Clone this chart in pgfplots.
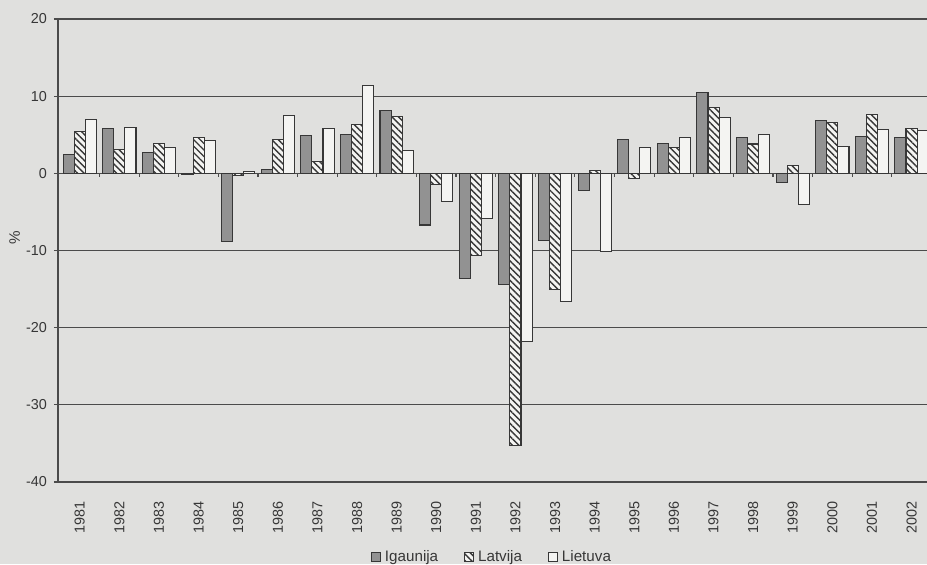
\documentclass[border=0pt]{standalone}
\usepackage{fontspec}
\setmainfont{Liberation Sans}
\usepackage{pgfplots}
\pgfplotsset{compat=1.18}
\usetikzlibrary{patterns.meta}

\definecolor{paper}{RGB}{224,224,222}
\definecolor{barw}{RGB}{244,244,242}
\definecolor{bardark}{RGB}{146,146,146}
\definecolor{ink}{RGB}{55,55,55}
\definecolor{gridc}{RGB}{75,75,75}

\begin{document}
\begin{tikzpicture}
\fill[paper] (-29pt,-41pt) rectangle (434.5pt,241pt);
\begin{axis}[
    at={(0,0)}, anchor=south west,
    width=434.5pt, height=231.5pt, scale only axis,
    xmin=-0.55, xmax=21.39, ymin=-40, ymax=20,
    ybar, bar width=0.28,
    axis lines*=left,
    axis line style={gridc, line width=0.6pt},
    ymajorgrids, grid style={gridc, line width=0.6pt},
    ytick={-40,-30,...,20},
    xtick={0,...,21},
    xticklabels={1981,1982,1983,1984,1985,1986,1987,1988,1989,1990,1991,1992,1993,1994,1995,1996,1997,1998,1999,2000,2001,2002},
    x tick style={draw=none},
    y tick style={gridc, line width=0.6pt},
    tick align=outside, major tick length=2pt,
    xticklabel style={rotate=90, anchor=east},
    xticklabel shift=4pt,
    tick label style={font=\fontsize{7.2}{8.6}\selectfont, text=ink},
    /pgf/number format/assume math mode=true,
    ylabel={\%},
    ylabel style={at={(axis description cs:-0.05,0.527)}, anchor=center, font=\fontsize{7.6}{9}\selectfont, text=ink},
    every axis plot/.append style={draw=ink, line width=0.55pt},
    legend style={at={(axis description cs:0.5006,-0.162)}, anchor=center,
      draw=none, fill=none, font=\fontsize{7.6}{9}\selectfont, text=ink,
      legend columns=3, /tikz/every even column/.append style={column sep=11pt}},
    legend image code/.code={\draw[#1] (0pt,-2.2pt) rectangle (4.4pt,2.2pt);},
]
\addplot[fill=bardark, bar shift=-0.28] coordinates {
  (0,2.5) (1,5.8) (2,2.7) (3,-0.1) (4,-8.8) (5,0.5) (6,4.9) (7,5.0) (8,8.1) (9,-6.7) (10,-13.6)
  (11,-14.4) (12,-8.7) (13,-2.2) (14,4.4) (15,3.9) (16,10.5) (17,4.6) (18,-1.2) (19,6.9) (20,4.8) (21,4.6)};
\addplot[fill=barw, bar shift=0,
  postaction={pattern={Lines[angle=-45,distance=2.3pt,line width=0.7pt]}, pattern color=ink}] coordinates {
  (0,5.4) (1,3.1) (2,3.85) (3,4.6) (4,-0.3) (5,4.4) (6,1.5) (7,6.3) (8,7.4) (9,-1.5) (10,-10.6)
  (11,-35.3) (12,-15.1) (13,0.35) (14,-0.7) (15,3.3) (16,8.5) (17,3.8) (18,1.0) (19,6.6) (20,7.6) (21,5.8)};
\addplot[fill=barw, bar shift=0.28] coordinates {
  (0,7.0) (1,5.9) (2,3.3) (3,4.2) (4,0.2) (5,7.5) (6,5.8) (7,11.4) (8,3.0) (9,-3.7) (10,-5.8)
  (11,-21.8) (12,-16.6) (13,-10.1) (14,3.3) (15,4.7) (16,7.2) (17,5.0) (18,-4.0) (19,3.5) (20,5.7) (21,5.6)};
\legend{Igaunija,Latvija,Lietuva}
\pgfplotsinvokeforeach{0,...,20}{
  \draw[gridc, line width=0.6pt] (axis cs:#1+0.5,0) -- ([yshift=-2pt]axis cs:#1+0.5,0);
}
\end{axis}
\pgfresetboundingbox
\path (-29pt,-41pt) rectangle (434.5pt,241pt);
\end{tikzpicture}
\end{document}
